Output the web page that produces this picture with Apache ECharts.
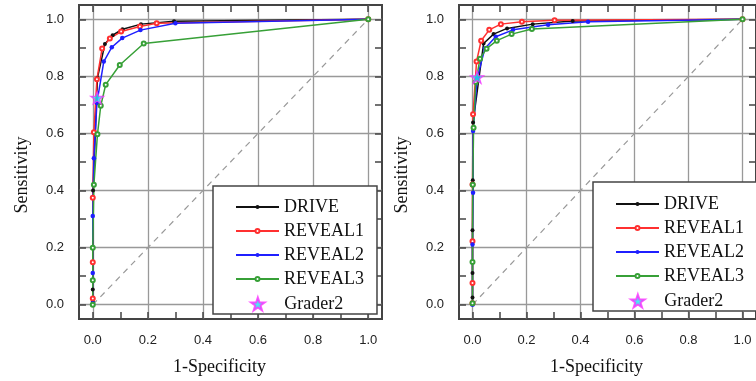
<!DOCTYPE html>
<html>
<head>
<meta charset="utf-8">
<script src="https://cdn.jsdelivr.net/npm/echarts@6/dist/echarts.min.js"></script>
<style>
  html, body { margin: 0; padding: 0; background: #fff; overflow: hidden; }
  #chart { width: 756px; height: 381px; }
</style>
</head>
<body>
<div id="chart"></div>
<script>
// ROC points [1-specificity, sensitivity]
const DRIVE_A = [[0, 0.01], [0, 0.053], [0.001, 0.40], [0.017, 0.795], [0.044, 0.913], [0.072, 0.944], [0.108, 0.965], [0.175, 0.983], [0.295, 0.993], [1, 1]];
const REVEAL1_A = [[0, 0.022], [0, 0.149], [0, 0.375], [0.004, 0.604], [0.015, 0.79], [0.034, 0.898], [0.062, 0.933], [0.103, 0.957], [0.171, 0.975], [0.232, 0.986], [1, 1]];
const REVEAL2_A = [[0, 0.005], [0, 0.111], [0, 0.311], [0.004, 0.513], [0.015, 0.707], [0.04, 0.852], [0.069, 0.902], [0.107, 0.934], [0.173, 0.962], [0.30, 0.986], [1, 1]];
const REVEAL3_A = [[0, 0], [0, 0.086], [0, 0.2], [0.004, 0.42], [0.017, 0.597], [0.029, 0.697], [0.047, 0.771], [0.098, 0.84], [0.185, 0.915], [1, 1]];
const GRADER2_A = [[0.016, 0.725]];

const DRIVE_B = [[0, 0.025], [0, 0.111], [0, 0.261], [0.001, 0.436], [0.002, 0.638], [0.041, 0.915], [0.078, 0.948], [0.128, 0.968], [0.223, 0.983], [0.371, 0.994], [1, 1]];
const REVEAL1_B = [[0, 0.005], [0, 0.076], [0, 0.222], [0, 0.421], [0.002, 0.667], [0.015, 0.852], [0.032, 0.925], [0.062, 0.963], [0.105, 0.983], [0.183, 0.991], [0.304, 0.997], [1, 1]];
const REVEAL2_B = [[0, 0], [0, 0.211], [0.002, 0.392], [0.002, 0.609], [0.017, 0.792], [0.046, 0.898], [0.086, 0.939], [0.15, 0.963], [0.28, 0.981], [0.428, 0.991], [1, 1]];
const REVEAL3_B = [[0, 0.005], [0, 0.15], [0.001, 0.42], [0.004, 0.62], [0.012, 0.78], [0.028, 0.862], [0.052, 0.897], [0.09, 0.925], [0.145, 0.948], [0.22, 0.966], [1, 1]];
const GRADER2_B = [[0.017, 0.797]];

const CHANCE = [[0, 0], [1, 1]];

const MAJOR = [0, 0.2, 0.4, 0.6, 0.8, 1.0];
const CURVES = ["DRIVE", "REVEAL1", "REVEAL2", "REVEAL3"];

const COLORS = { DRIVE: "#111111", REVEAL1: "#ff3030", REVEAL2: "#1f1fff", REVEAL3: "#37a037" };
const SYMBOLS = { DRIVE: "circle", REVEAL1: "emptyCircle", REVEAL2: "circle", REVEAL3: "emptyCircle" };
const SIZES = { DRIVE: 4, REVEAL1: 4, REVEAL2: 4.5, REVEAL3: 4 };
const STAR = "path://M12,0 L14.9,8.6 L24,8.7 L16.7,14.1 L19.4,22.8 L12,17.6 L4.6,22.8 L7.3,14.1 L0,8.7 L9.1,8.6 Z";

const SERIF = "Liberation Serif";
const SANS = "Liberation Sans";
const FRAME = "#444";
// major ticks sit under the grid lines; the minor ones mark the odd tenths
const TICK = { show: true, inside: true, length: 7, customValues: MAJOR, lineStyle: { color: FRAME, width: 1.5 } };
const MINOR_TICK = { show: true, splitNumber: 2, length: 7, lineStyle: { color: FRAME, width: 1.5 } };

const chart = echarts.init(document.getElementById("chart"));

const panels = [
  { left: 79, data: { DRIVE: DRIVE_A, REVEAL1: REVEAL1_A, REVEAL2: REVEAL2_A, REVEAL3: REVEAL3_A }, grader: GRADER2_A, legend: { left: 213, top: 186 } },
  { left: 459, data: { DRIVE: DRIVE_B, REVEAL1: REVEAL1_B, REVEAL2: REVEAL2_B, REVEAL3: REVEAL3_B }, grader: GRADER2_B, legend: { left: 593, top: 182 } },
];

const grid = [], xAxis = [], yAxis = [], series = [], legend = [];

// top / right axes only carry ticks
const tickAxis = (gridIndex, position) => ({
  type: "value", gridIndex, position, min: -0.05, max: 1.05,
  axisLine: { show: false, onZero: false },
  axisLabel: { show: false },
  splitLine: { show: false },
  axisTick: TICK,
  minorTick: MINOR_TICK,
});

panels.forEach((p, gi) => {
  grid.push({ left: p.left, top: 5, width: 303, height: 317, show: true, borderColor: FRAME, borderWidth: 2, backgroundColor: "transparent" });

  const xi = xAxis.length, yi = yAxis.length;
  xAxis.push({
    type: "value", gridIndex: gi, position: "bottom", min: -0.05, max: 1.05,
    name: "1-Specificity", nameLocation: "middle", nameGap: 39,
    nameTextStyle: { fontFamily: SERIF, fontSize: 18, color: "#111", padding: [0, 22, 0, 0] },
    axisLine: { show: false, onZero: false },
    axisTick: TICK,
    minorTick: MINOR_TICK,
    axisLabel: { customValues: MAJOR, margin: 15, fontFamily: SANS, fontSize: 13, color: "#222", formatter: (v) => v.toFixed(1) },
    splitLine: { show: true, lineStyle: { color: "#999", width: 1.3 } },
  }, tickAxis(gi, "top"));
  yAxis.push({
    type: "value", gridIndex: gi, position: "left", min: -0.05, max: 1.05,
    name: "Sensitivity", nameLocation: "middle", nameGap: 48,
    nameTextStyle: { fontFamily: SERIF, fontSize: 18, color: "#111", padding: [0, 26, 0, 0] },
    axisLine: { show: false, onZero: false },
    axisTick: TICK,
    minorTick: MINOR_TICK,
    axisLabel: { customValues: MAJOR, margin: 15, fontFamily: SANS, fontSize: 13, color: "#222", formatter: (v) => v.toFixed(1) },
    splitLine: { show: true, lineStyle: { color: "#999", width: 1.3 } },
  }, tickAxis(gi, "right"));

  series.push({
    name: "chance", type: "line", xAxisIndex: xi, yAxisIndex: yi, data: CHANCE,
    symbol: "none", silent: true, z: 1,
    lineStyle: { color: "#999", width: 1.2, type: [6, 5] },
  });

  CURVES.forEach((k) => {
    series.push({
      name: k, type: "line", xAxisIndex: xi, yAxisIndex: yi, data: p.data[k],
      symbol: SYMBOLS[k], symbolSize: SIZES[k], z: 3,
      lineStyle: { color: COLORS[k], width: 1.5 },
      itemStyle: { color: COLORS[k], borderWidth: 1 },
    });
  });

  series.push({
    name: "Grader2", type: "scatter", xAxisIndex: xi, yAxisIndex: yi, data: p.grader,
    symbol: STAR, symbolSize: 13, symbolKeepAspect: true, z: 5,
    itemStyle: { color: "#22e0f0", borderColor: "#ff2cff", borderWidth: 1.2 },
  });

  legend.push({
    data: CURVES, orient: "vertical", left: p.legend.left, top: p.legend.top,
    padding: [11 + gi, 13, 25, 22], itemGap: 4, itemWidth: 43, itemHeight: 5,
    selectedMode: false, backgroundColor: "#fff",
    borderColor: FRAME, borderWidth: 1.5,
    textStyle: { fontFamily: SERIF, fontSize: 18, color: "#111", lineHeight: 20 },
  }, {
    data: ["Grader2"], orient: "vertical", left: p.legend.left + 37, top: p.legend.top + 108 + gi,
    padding: 0, itemWidth: 43, itemHeight: 13, selectedMode: false,
    textStyle: { fontFamily: SERIF, fontSize: 18, color: "#111", lineHeight: 20 },
  });
});

chart.setOption({
  animation: false,
  backgroundColor: "#fff",
  grid, xAxis, yAxis, series, legend,
});
</script>
</body>
</html>
